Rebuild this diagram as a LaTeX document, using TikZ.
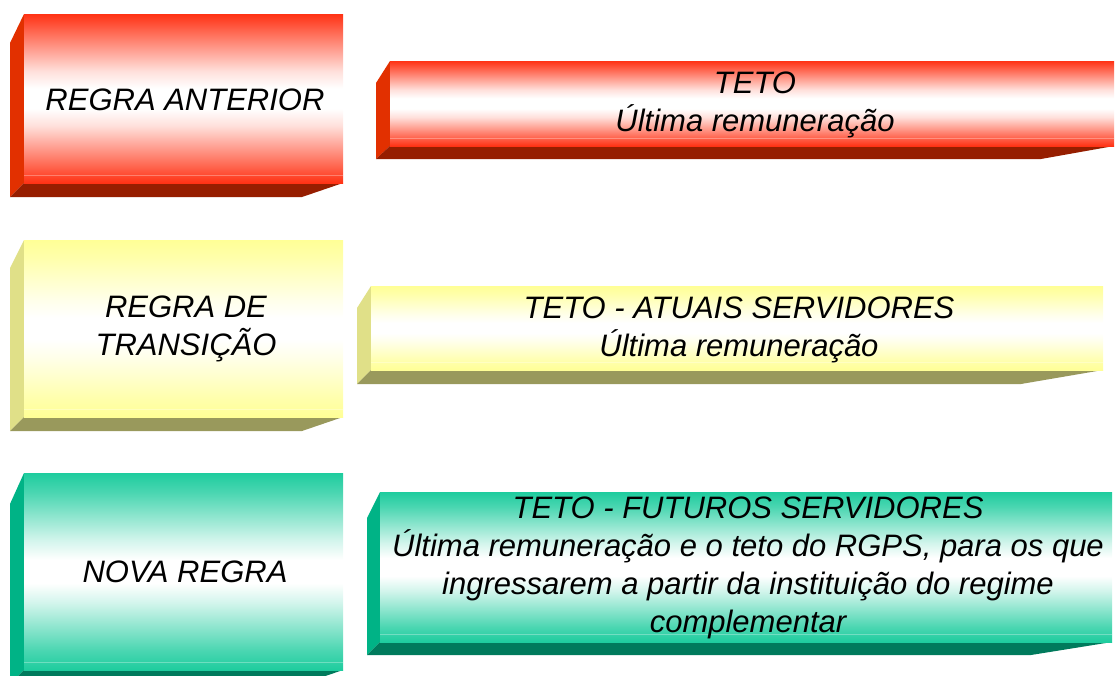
\documentclass[tikz,border=0pt]{standalone}
\usepackage{fontspec}
\setmainfont{Liberation Sans}
\definecolor{redE}{RGB}{255,50,20}
\definecolor{redside}{RGB}{226,48,0}
\definecolor{redbot}{RGB}{150,30,0}
\definecolor{yelE}{RGB}{255,255,150}
\definecolor{yelside}{RGB}{224,224,136}
\definecolor{yelbot}{RGB}{153,153,92}
\definecolor{grnE}{RGB}{30,204,158}
\definecolor{grnside}{RGB}{0,179,134}
\definecolor{grnbot}{RGB}{0,122,92}
\pgfdeclareverticalshading{redsh}{100bp}{color(0bp)=(redE); color(25bp)=(redE); color(30bp)=(redE!75!white); color(42bp)=(redE!15!white); color(47bp)=(white); color(53bp)=(white); color(58bp)=(redE!15!white); color(70bp)=(redE!75!white); color(75bp)=(redE); color(100bp)=(redE)}
\pgfdeclareverticalshading{yelsh}{100bp}{color(0bp)=(yelE); color(25bp)=(yelE); color(30bp)=(yelE!80!white); color(42bp)=(yelE!20!white); color(47bp)=(white); color(53bp)=(white); color(58bp)=(yelE!20!white); color(70bp)=(yelE!80!white); color(75bp)=(yelE); color(100bp)=(yelE)}
\pgfdeclareverticalshading{grnsh}{100bp}{color(0bp)=(grnE); color(25bp)=(grnE); color(30bp)=(grnE!80!white); color(42bp)=(grnE!20!white); color(47bp)=(white); color(53bp)=(white); color(58bp)=(grnE!20!white); color(70bp)=(grnE!80!white); color(75bp)=(grnE); color(100bp)=(grnE)}
% #1 colour prefix, #2 L, #3 F, #4 R, #5 T, #6 S, #7 B, #8 D, #9 C
\newcommand\slab[9]{%
  \fill[#1side] (#2,#6) -- (#3,#5) -- (#3,#7) -- (#2,#8) -- cycle;
  \fill[#1bot] (#3,#7) -- (#4,#7) -- (#9,#8) -- (#2,#8) -- cycle;
  \shade[shading=#1sh] (#3,#5) rectangle (#4,#7);
  \draw[stripe] (#3,#7-8) -- (#4,#7-8);
}
\begin{document}
\begin{tikzpicture}[x=1pt,y=-1pt,
  txt/.style={align=center,inner sep=0pt,font=\fontsize{31}{38}\selectfont\itshape},
  stripe/.style={white,opacity=0.3,line width=1pt}]
\useasboundingbox (0,0) rectangle (1116,675);
\clip (0,0) rectangle (1116,675);
\slab{red}{10}{24}{343}{14}{43}{183}{197}{302}
\slab{red}{376}{390}{1114}{61}{83}{146}{159}{1041}
\slab{yel}{10}{24}{343}{240}{268}{417}{431}{302}
\slab{yel}{357}{371}{1103}{286}{308}{370}{384}{1021}
\slab{grn}{10}{24}{343}{473}{504}{670}{684}{302}
\slab{grn}{367}{380}{1112}{492}{518}{642}{655}{1031}
\node[txt] (anterior) at (185,100) {REGRA ANTERIOR};
\node[txt] (teto1) at (755,105) {TETO\\Última remuneração};
\node[txt] (transicao) at (186,329) {REGRA DE\\TRANSIÇÃO};
\node[txt] (teto2) at (739,330) {TETO - ATUAIS SERVIDORES\\Última remuneração};
\node[txt] (nova) at (185,572) {NOVA REGRA};
\node[txt] (teto3) at (748,568) {TETO - FUTUROS SERVIDORES\\Última remuneração e o teto do RGPS, para os que\\ingressarem a partir da instituição do regime\\complementar};
\end{tikzpicture}
\end{document}
